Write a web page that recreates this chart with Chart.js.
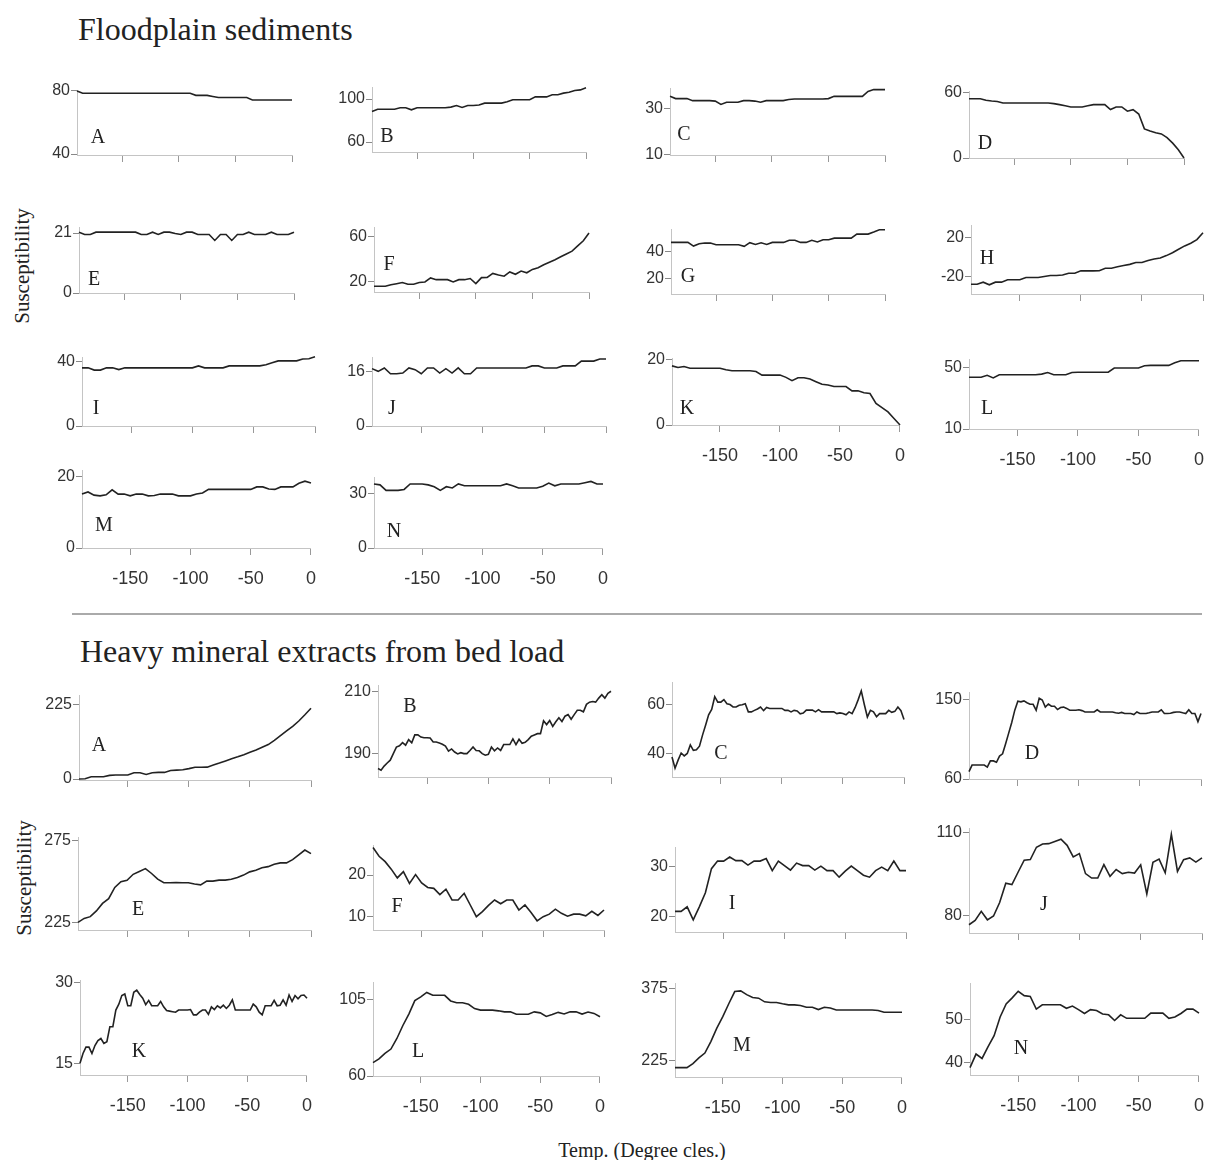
<!DOCTYPE html>
<html>
<head>
<meta charset="utf-8">
<script src="https://cdn.jsdelivr.net/npm/chart.js@4.4.0/dist/chart.umd.min.js"></script>
<style>
  body { margin: 0; background: #fff; }
  #page { position: relative; width: 1208px; height: 1160px; overflow: hidden; font-family: "Liberation Serif", "Times New Roman", serif; color: #222; }
  .title { position: absolute; font-size: 32px; line-height: 1; white-space: nowrap; }
  .ylab { position: absolute; font-size: 21px; line-height: 1; white-space: nowrap; transform: translate(-50%, -50%) rotate(-90deg); }
  .xlab { position: absolute; font-size: 20px; line-height: 1; white-space: nowrap; transform: translate(-50%, -50%); }
  .letter { position: absolute; font-size: 20px; line-height: 1; transform: translate(-50%, -50%); }
  .sep { position: absolute; left: 72px; top: 613px; width: 1130px; border-top: 2px solid #aaa; }
  canvas { position: absolute; }
</style>
</head>
<body>
<div id="page">
  <div class="title" style="left:78px; top:13px;">Floodplain sediments</div>
  <div class="title" style="left:80px; top:635px;">Heavy mineral extracts from bed load</div>
  <div class="ylab" style="left:22px; top:266px;">Susceptibility</div>
  <div class="ylab" style="left:24px; top:878px;">Susceptibility</div>
  <div class="xlab" style="left:642px; top:1150px;">Temp. (Degree cles.)</div>
  <div class="sep"></div>
</div>
<script>
// shared x axis
const xRange = [-190, 0];
const xTickValues = [-150, -100, -50, 0];
const temps5 = [-190,-185,-180,-175,-170,-165,-160,-155,-150,-145,-140,-135,-130,-125,-120,-115,-110,-105,-100,-95,-90,-85,-80,-75,-70,-65,-60,-55,-50,-45,-40,-35,-30,-25,-20,-15,-10,-5,0];
const temps25 = [-190,-187.5,-185,-182.5,-180,-177.5,-175,-172.5,-170,-167.5,-165,-162.5,-160,-157.5,-155,-152.5,-150,-147.5,-145,-142.5,-140,-137.5,-135,-132.5,-130,-127.5,-125,-122.5,-120,-117.5,-115,-112.5,-110,-107.5,-105,-102.5,-100,-97.5,-95,-92.5,-90,-87.5,-85,-82.5,-80,-77.5,-75,-72.5,-70,-67.5,-65,-62.5,-60,-57.5,-55,-52.5,-50,-47.5,-45,-42.5,-40,-37.5,-35,-32.5,-30,-27.5,-25,-22.5,-20,-17.5,-15,-12.5,-10,-7.5,-5,-2.5,0];

// floodplain sediments
const fpA = [80,78.5,78.5,78.5,78.5,78.5,78.5,78.5,78.5,78.5,78.5,78.5,78.5,78.5,78.5,78.5,78.5,78.5,78.5,78.5,78.5,77.2,77.2,77.2,76.5,75.8,75.8,75.8,75.8,75.8,75.8,74.3,74.3,74.3,74.3,74.3,74.3,74.3,74.3];
const fpB = [88.3,90.5,90.5,90.5,90.5,91.9,91.9,90,91.9,91.9,91.9,91.9,91.9,91.9,92.5,94,92.2,94,94,94.5,96.2,96.2,96.2,96.2,97.5,99.4,99.4,99.4,99.4,102,102,102,104,104,105.5,106.3,108,108.5,110.4];
const fpC = [35.6,34.6,34.6,34.6,33.7,33.7,33.7,33.7,33.5,32,33,33,33,33.7,33.7,33.5,33,33.7,33.7,33.7,33.7,34.2,34.4,34.4,34.4,34.4,34.4,34.4,34.6,35.6,35.6,35.6,35.6,35.6,35.6,37.8,38.6,38.6,38.6];
const fpD = [54,54,54,52.5,51.9,51.5,50.1,50.1,50.1,50.1,50.1,50.1,50.1,50.1,50.1,49.5,48.6,47.5,46.5,46.5,46.5,47.5,48.6,48.6,48.6,44.1,46.5,46.5,42.6,44,40,26.5,24.5,23,21.9,18.5,13.5,7.5,0];
const fpE = [21.3,20.5,20.5,21.3,21.3,21.3,21.3,21.3,21.3,21.3,21.3,20.5,20.5,21.3,20.5,21.3,21.3,20.8,20.5,21.3,21.3,20.5,20.5,20.5,18.4,20.5,20.5,18.4,20.5,20.5,21.3,20.5,20.5,20.5,21.3,20.5,20.5,20.5,21.3];
const fpF = [16.2,16.2,16.2,17.5,18.5,19.5,18,18,19.5,20,23.5,22,22,22,20,22,22,23,18.5,23.8,24,27.5,26,25,28.8,26.7,29.5,28,31,32.5,35,37.3,39.5,42,44.5,47,51.5,56,62.9];
const fpG = [46.5,46.5,46.5,46.5,43.8,45.5,46,46,44.8,44.8,44.8,44.8,44.8,43.6,46.3,45,46.2,45,46.5,46.5,46.5,48,48,46.5,46.5,48,46.8,48.4,48.4,49.6,49.6,49.6,49.6,52.5,52.5,52.5,54,55.7,55.7];
const fpH = [-27.9,-27.9,-25.8,-28.5,-25.8,-25.8,-23.4,-23.4,-23.4,-21,-21,-21,-20,-18.9,-18.9,-18.5,-16.6,-16.6,-14.2,-14.2,-14.2,-14,-11.5,-11.5,-10,-8.7,-7.5,-5.6,-5.6,-3.5,-2,-1,1.5,4.5,8,11.5,14.2,18,25];
const fpI = [35.9,35.9,34.5,34.5,35.9,35.9,34.8,35.9,35.9,35.9,35.9,35.9,35.9,35.9,35.9,35.9,35.9,35.9,35.9,37.1,35.9,35.9,35.9,35.9,37.1,37.1,37.1,37.1,37.1,37.1,37.8,39,40.2,40.2,40.2,40.2,41.4,41.5,42.7];
const fpJ = [16.8,16,17,15.3,15.3,15.5,17,16.5,15.3,17,17,15.5,16.8,15.5,17,15.3,15.3,17,17,17,17,17,17,17,17,17,17.6,17.6,17,17,17,17.6,17.6,17.6,19,19,19,19.6,19.6];
const fpK = [18,17.5,17.8,17.3,17.3,17.3,17.3,17.3,17.3,16.8,16.5,16.5,16.5,16.5,16.3,15.2,15.2,15.2,15.2,14.5,13.5,14.4,14.4,14,13.2,12.4,12.2,11.7,11.7,11.7,10.4,10.4,9.8,9.6,6.6,5.3,4,2,0];
const fpL = [43.9,43.9,43.9,45.2,43.5,45.6,45.6,45.6,45.6,45.6,45.6,45.6,46,47,45.6,45.6,45.6,47,47.2,47.2,47.2,47.2,47.2,47.2,50,50,50,50,50,51.5,51.7,51.7,51.7,51.7,53.5,54.8,54.8,54.8,54.8];
const fpM = [15,15.6,14.7,14.5,14.8,16.2,15,15,14.5,15,15,14.5,14.6,15,15,15,14.5,14.5,14.5,15,15.3,16.3,16.3,16.3,16.3,16.3,16.3,16.3,16.3,17,17,16.4,16.3,17,17,17,18,18.6,18.1];
const fpN = [35,34.5,31.5,31.5,31.5,32,35,35,35,34.5,33.5,31.5,33.5,32.8,35,34,34,34,34,34,34,34,35,34,32.8,32.8,32.8,32.8,33.8,35.5,34,35,35,35,35,35.7,36.4,35,35];

const fpLetters = ['A','B','C','D','E','F','G','H','I','J','K','L','M','N'];
const fpSeries = [fpA, fpB, fpC, fpD, fpE, fpF, fpG, fpH, fpI, fpJ, fpK, fpL, fpM, fpN];
const fpYTicks = [[40,80],[60,100],[10,30],[0,60],[0,21],[20,60],[20,40],[-20,20],[0,40],[0,16],[0,20],[10,50],[0,20],[0,30]];
const fpYRange = [[39.4,80.6],[50.7,111.2],[9.6,39.3],[0,61],[0,23.1],[11.2,68.1],[9.1,56.2],[-38,33],[0,42.6],[0,20.2],[0,20.4],[10,55.9],[0,21.7],[0,38.8]];

// heavy mineral extracts from bed load
const hmA = [0,1,7,7,7,11,12,12,12,19,19,14,19,20,20,26,27,28,31.5,35.5,35.5,36,42.5,48.5,55,61.5,67.5,74,81,88,96.5,104.5,117,131.5,146,160,176,195,215];
const hmB = [185.2,184.7,186,187,187.9,190,192.1,192.5,193.5,192.7,194.5,193.5,196,196,195.3,195.1,195.1,195,193.7,193.7,193.4,193,192.4,190.8,191.5,190.5,189.9,190.3,190,190,191,192.1,191,190.9,190,189.5,189.8,192.1,190.9,191.8,191,192.9,192.9,192.9,194.7,192.9,194.6,193.3,193.6,194.5,195.6,196,196.4,196.4,200.5,199.3,200.6,198.7,200.2,201.5,200.3,202,202.5,201,202.5,203.9,203.9,203.4,205.8,206.5,206.7,206.5,207.8,208.9,207.8,209.3,210];
const hmC = [38.6,34,37.3,40.2,39,40,43.5,41.3,41.5,43,47.5,51.5,55.8,58,63.2,61,61,62,60.3,60,59,59,59.7,59.9,60.3,57,57,57.6,58.2,59,57.5,58.8,58.4,58.4,58.4,58.4,58.4,57.6,57.6,57,57.6,57.4,56.2,56.5,57.7,57.7,57.7,57,57.9,57,57,57,57,57,56.3,56.6,56.3,55.8,57,56.3,58.8,62,65.6,60,54.9,57.6,57,55,56.3,56.3,56.3,57.6,56.8,57.2,59,57.5,53.9];
const hmD = [68.3,75.8,75.8,75.8,75.8,75.8,73.5,80.5,80.5,79,86,88.5,100,112,124,138,148.1,147.4,148.5,146.5,144.7,144.7,138,151.5,149.5,141.5,145,142.5,142.5,138.7,141,141.5,140,138,138,138,138.5,137.5,136,136,136,136,138.5,136,136,136,136,136,135,134.5,135.5,134.2,134.2,134.2,133,136,134.2,134.2,134.2,135,136,136,136,138.5,134.2,134.2,134.5,135.5,136,136,135,134.2,138.5,134.2,134.2,125,134.2];
const hmE = [225,227.4,228.5,232,236.6,239.5,246.4,250,250.8,254.5,256.2,258,255,251.5,249.3,249.3,249.5,249.3,249.3,248.5,248,250.3,250.3,250.9,250.9,251.5,252.5,254,256,257,258.5,259.2,260.7,261.5,261.5,263.5,266.5,269.4,267.2];
const hmF = [26.6,24.5,23.2,21.4,19.3,20.8,18,20.1,18.1,17,16.8,15.3,16.6,14,14,15.6,12.8,10,11.2,12.7,14,13.1,14,14,11.6,12.8,11,9,10,10.6,11.8,10.8,10.1,10.6,10.6,10.2,11.3,10.3,11.6];
const hmI = [21,21,21.9,19.3,21.9,24.7,29.5,31,31,31.8,31.1,31.1,30.2,31,31,31.5,29.1,31,30.1,29.2,30.6,30.1,30.1,29.2,30,29.1,29.1,27.8,29,30,29.1,28.2,27.8,29.1,29.8,29.1,31,29.1,29.1];
const hmJ = [76.6,78.2,81.5,78.4,79.8,84.7,91.7,91.2,95.7,100.1,100.3,104.8,106,106.1,106.9,107.7,105.5,101.3,102.5,95.2,93.6,93.6,98.5,94.2,96.7,95.2,95.7,95.4,98.4,87.8,99.3,100.5,95.5,109.5,96,100.3,100.9,99.4,100.9];
const hmK = [15,16.8,18,18,16.8,18.3,19.2,19.6,18.7,19,21.8,21.8,24.9,26,27.6,27.9,25.7,25.7,28.2,28.6,27.8,27.1,25.9,26.7,25.7,25.7,25.7,26.5,25.5,24.8,24.7,24.6,24.5,24.9,24.9,24.9,24.9,25,24,24,24.5,24.9,24.9,24.1,25.5,25,25.7,25.3,25.8,25.2,25.8,26.8,24.9,24.9,24.9,24.9,24.9,24.9,26,25.5,24.5,24,25.7,25.7,25.7,26.7,25.7,25.8,26.8,25.8,27.7,26.5,27.6,27,27.6,27.7,27.1];
const hmL = [67.8,70,73.3,75.8,82,89.6,96.3,104.2,106.4,109,107.3,107.3,107.3,104,102.9,102.9,102,99.5,98.6,98.6,98.6,98.2,97.6,97.6,96.2,96.2,96.2,97.6,97,94.9,96,97.3,96.4,97.6,97.6,96.3,97.5,96.7,94.7];
const hmM = [209.6,209.6,209.6,218,230,240,264,292,316,343,368.5,370,362,356,354.7,347,345.6,345.6,343,340.7,340.7,339.5,335.7,335.7,330.8,335.7,334,330.1,330.1,330.1,330.1,330.1,330.1,330.1,329,325.2,325.2,325.2,325.2];
const hmN = [38.9,42,41,43.7,46.2,50.5,53.5,54.9,56.4,55.4,55.2,52.3,53.3,53.3,53.3,53.3,52.5,53,52.2,51.3,52.2,52,51.2,51,49.7,51,50.2,50.2,50.2,50.2,51.4,51.4,51.4,50.2,50.5,51.3,52.3,52.3,51.4];

const hmLetters = ['A','B','C','D','E','F','I','J','K','L','M','N'];
const hmSeries = [hmA, hmB, hmC, hmD, hmE, hmF, hmI, hmJ, hmK, hmL, hmM, hmN];
const hmTemps = [temps5, temps25, temps25, temps25, temps5, temps5, temps5, temps5, temps25, temps5, temps5, temps5];
const hmYTicks = [[0,225],[190,210],[40,60],[60,150],[225,275],[10,20],[20,30],[80,110],[15,30],[60,105],[225,375],[40,50]];
const hmYRange = [[-3,255],[182.5,212],[30.4,69.2],[60,158.6],[220.3,277.4],[6.8,27.2],[16.9,33.8],[73.6,111.8],[12.8,30.5],[60,115.1],[189.9,386.4],[37.2,58.3]];

// layout: plot box [left, top, right, bottom] in page pixels, letter centre, x labels shown
const fpBoxes = [[77,90,292,155],[372,87,586,152],[670,88,885,155],[969,91,1184,158],[79,227,294,293],[374,227,589,292],[671,229,885,294],[971,225,1203,294],[82,357,315,426],[372,357,606,426],[672,358,904,425],[969,359,1203,429],[82,470,315,548],[374,477,607,548]];
const fpLetterPos = [[98,136],[387,135],[684,133],[985,142],[94,278],[389,263],[688,275],[987,257],[96,407],[392,407],[687,407],[987,407],[104,524],[394,530]];
const fpShowX = [0,0,0,0,0,0,0,0,0,0,1,1,1,1];
const hmBoxes = [[79,695,311,780],[378,685,611,777],[672,682,904,777],[969,692,1201,779],[78,837,311,930],[373,845,604,930],[675,847,906,932],[969,828,1202,933],[80,980,311,1075],[373,982,604,1076],[675,983,906,1077],[970,983,1203,1075]];
const hmLetterPos = [[99,744],[410,705],[721,752],[1032,752],[138,908],[397,905],[732,902],[1044,903],[139,1050],[418,1050],[742,1044],[1021,1047]];
const hmShowX = [0,0,0,0,0,0,0,0,1,1,1,1];

Chart.defaults.font.family = '"Liberation Sans", Arial, sans-serif';
const page = document.getElementById('page');

// one small line chart per panel
function makePanel(box, xs, ys, yTicks, yRange, showX) {
  const [l, t, r, b] = box;
  const padL = 60, padT = 12, padR = 14;
  const xH = showX ? 46 : 12;
  const w = (r - l) + padL + padR;
  const h = (b - t) + padT + xH;
  const c = document.createElement('canvas');
  c.width = w; c.height = h;
  c.style.left = (l - padL) + 'px';
  c.style.top = (t - padT) + 'px';
  c.style.width = w + 'px';
  c.style.height = h + 'px';
  page.appendChild(c);

  new Chart(c, {
    type: 'line',
    data: {
      datasets: [{
        data: xs.map((x, i) => ({ x: x, y: ys[i] })),
        borderColor: '#222',
        borderWidth: 1.6,
        pointRadius: 0,
        tension: 0,
        fill: false,
        clip: false
      }]
    },
    options: {
      responsive: false,
      animation: false,
      events: [],
      layout: { padding: { left: 0, top: padT, right: padR, bottom: 0 } },
      plugins: { legend: { display: false }, tooltip: { enabled: false } },
      scales: {
        x: {
          type: 'linear', min: xRange[0], max: xRange[1],
          afterBuildTicks: s => { s.ticks = xTickValues.map(v => ({ value: v })); },
          afterFit: s => { s.height = xH; },
          grid: { drawOnChartArea: false, drawTicks: true, tickLength: 7, color: '#999' },
          border: { display: true, color: '#c4c4c4', width: 1 },
          ticks: { display: !!showX, color: '#333', font: { size: 18 }, padding: 13, maxRotation: 0, autoSkip: false, callback: v => String(v) }
        },
        y: {
          type: 'linear', min: yRange[0], max: yRange[1],
          afterBuildTicks: s => { s.ticks = yTicks.map(v => ({ value: v })); },
          afterFit: s => { s.width = padL; },
          grid: { drawOnChartArea: false, drawTicks: true, tickLength: 6, color: '#888' },
          border: { display: true, color: '#c4c4c4', width: 1 },
          ticks: { color: '#333', font: { size: 16 }, padding: 1, autoSkip: false, callback: v => String(v) }
        }
      }
    }
  });
}

function addLetter(pos, text) {
  const d = document.createElement('div');
  d.className = 'letter';
  d.style.left = pos[0] + 'px';
  d.style.top = pos[1] + 'px';
  d.textContent = text;
  page.appendChild(d);
}

fpSeries.forEach((ys, i) => {
  makePanel(fpBoxes[i], temps5, ys, fpYTicks[i], fpYRange[i], fpShowX[i]);
  addLetter(fpLetterPos[i], fpLetters[i]);
});

hmSeries.forEach((ys, i) => {
  makePanel(hmBoxes[i], hmTemps[i], ys, hmYTicks[i], hmYRange[i], hmShowX[i]);
  addLetter(hmLetterPos[i], hmLetters[i]);
});
</script>
</body>
</html>
